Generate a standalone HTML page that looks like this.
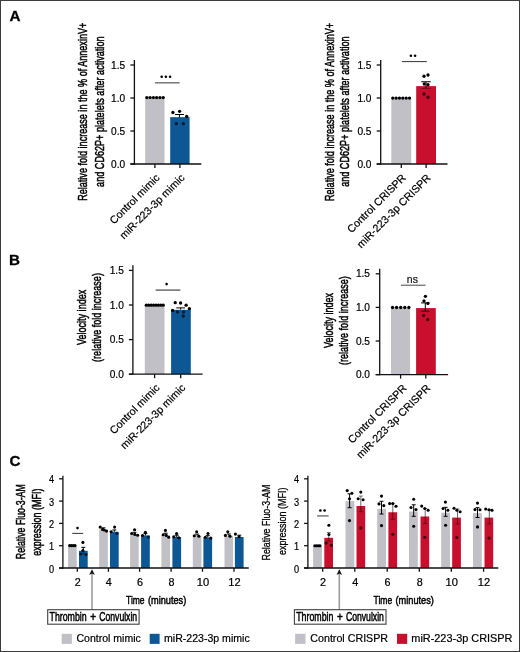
<!DOCTYPE html><html><head><meta charset="utf-8"><style>html,body{margin:0;padding:0;background:#fff;}svg{display:block;will-change:transform;}text{font-family:"Liberation Sans", sans-serif;}</style></head><body>
<svg width="520" height="652" viewBox="0 0 520 652">
<rect x="0" y="0" width="520" height="652" fill="#fff"/>
<text x="9.6" y="20.7" font-size="15.2" text-anchor="start" font-weight="bold" fill="#000" stroke="#000" stroke-width="0.3">A</text>
<text x="8.9" y="264.9" font-size="15.2" text-anchor="start" font-weight="bold" fill="#000" stroke="#000" stroke-width="0.3">B</text>
<text x="9.4" y="465.9" font-size="15.2" text-anchor="start" font-weight="bold" fill="#000" stroke="#000" stroke-width="0.3">C</text>
<text transform="translate(87.3,111.75) rotate(-90)" font-size="12.4" text-anchor="middle" textLength="178.1" lengthAdjust="spacingAndGlyphs" fill="#000" stroke="#000" stroke-width="0.5">Relative fold increase in the % of AnnexinV+</text>
<text transform="translate(103.5,111.7) rotate(-90)" font-size="12.4" text-anchor="middle" textLength="150.4" lengthAdjust="spacingAndGlyphs" fill="#000" stroke="#000" stroke-width="0.5">and CD62P+ platelets after activation</text>
<line x1="134.4" y1="60" x2="134.4" y2="164.65" stroke="#111" stroke-width="1.3"/>
<line x1="130.4" y1="65" x2="134.4" y2="65" stroke="#111" stroke-width="1.3"/>
<text x="125.2" y="68.65" font-size="10.0" text-anchor="end" textLength="14.1" lengthAdjust="spacingAndGlyphs" fill="#000" stroke="#000" stroke-width="0.2">1.5</text>
<line x1="130.4" y1="98" x2="134.4" y2="98" stroke="#111" stroke-width="1.3"/>
<text x="125.2" y="101.65" font-size="10.0" text-anchor="end" textLength="14.1" lengthAdjust="spacingAndGlyphs" fill="#000" stroke="#000" stroke-width="0.2">1.0</text>
<line x1="130.4" y1="131" x2="134.4" y2="131" stroke="#111" stroke-width="1.3"/>
<text x="125.2" y="134.65" font-size="10.0" text-anchor="end" textLength="14.1" lengthAdjust="spacingAndGlyphs" fill="#000" stroke="#000" stroke-width="0.2">0.5</text>
<line x1="130.4" y1="164" x2="134.4" y2="164" stroke="#111" stroke-width="1.3"/>
<text x="125.2" y="167.65" font-size="10.0" text-anchor="end" textLength="14.1" lengthAdjust="spacingAndGlyphs" fill="#000" stroke="#000" stroke-width="0.2">0.0</text>
<rect x="145.2" y="98" width="19.3" height="66" fill="#c1c0c6"/>
<rect x="170.2" y="117.14" width="19.4" height="46.86" fill="#0d5794"/>
<line x1="130.4" y1="164" x2="201.3" y2="164" stroke="#111" stroke-width="1.3"/>
<line x1="154.9" y1="164" x2="154.9" y2="168" stroke="#111" stroke-width="1.3"/>
<line x1="179.9" y1="164" x2="179.9" y2="168" stroke="#111" stroke-width="1.3"/>
<line x1="179.4" y1="114.5" x2="179.4" y2="117.5" stroke="#000" stroke-width="1.0"/>
<line x1="174.9" y1="114.5" x2="183.9" y2="114.5" stroke="#000" stroke-width="1.0"/>
<circle cx="146.8" cy="97.6" r="1.65" fill="#000"/>
<circle cx="150.08" cy="97.6" r="1.65" fill="#000"/>
<circle cx="153.36" cy="97.6" r="1.65" fill="#000"/>
<circle cx="156.64" cy="97.6" r="1.65" fill="#000"/>
<circle cx="159.92" cy="97.6" r="1.65" fill="#000"/>
<circle cx="163.2" cy="97.6" r="1.65" fill="#000"/>
<circle cx="172.9" cy="112.5" r="1.65" fill="#000"/>
<circle cx="179.6" cy="111.3" r="1.65" fill="#000"/>
<circle cx="186.7" cy="116.5" r="1.65" fill="#000"/>
<circle cx="176.3" cy="123.7" r="1.65" fill="#021a30"/>
<circle cx="183.3" cy="123.7" r="1.65" fill="#021a30"/>
<line x1="155" y1="82.8" x2="179.6" y2="82.8" stroke="#777" stroke-width="1.5"/>
<circle cx="161.7" cy="76.7" r="1.3" fill="#000"/>
<circle cx="165.9" cy="76.7" r="1.3" fill="#000"/>
<circle cx="170.1" cy="76.7" r="1.3" fill="#000"/>
<text transform="translate(160.2,178.5) rotate(-45)" font-size="10.7" text-anchor="end" fill="#000" stroke="#000" stroke-width="0.2">Control mimic</text>
<text transform="translate(185.2,178.5) rotate(-45)" font-size="10.7" text-anchor="end" fill="#000" stroke="#000" stroke-width="0.2">miR-223-3p mimic</text>
<text transform="translate(333.6,111.95) rotate(-90)" font-size="12.4" text-anchor="middle" textLength="178.1" lengthAdjust="spacingAndGlyphs" fill="#000" stroke="#000" stroke-width="0.5">Relative fold increase in the % of AnnexinV+</text>
<text transform="translate(349.4,111.65) rotate(-90)" font-size="12.4" text-anchor="middle" textLength="150.4" lengthAdjust="spacingAndGlyphs" fill="#000" stroke="#000" stroke-width="0.5">and CD62P+ platelets after activation</text>
<line x1="380.7" y1="60" x2="380.7" y2="164.65" stroke="#111" stroke-width="1.3"/>
<line x1="376.7" y1="65" x2="380.7" y2="65" stroke="#111" stroke-width="1.3"/>
<text x="371.5" y="68.65" font-size="10.0" text-anchor="end" textLength="14.1" lengthAdjust="spacingAndGlyphs" fill="#000" stroke="#000" stroke-width="0.2">1.5</text>
<line x1="376.7" y1="98" x2="380.7" y2="98" stroke="#111" stroke-width="1.3"/>
<text x="371.5" y="101.65" font-size="10.0" text-anchor="end" textLength="14.1" lengthAdjust="spacingAndGlyphs" fill="#000" stroke="#000" stroke-width="0.2">1.0</text>
<line x1="376.7" y1="131" x2="380.7" y2="131" stroke="#111" stroke-width="1.3"/>
<text x="371.5" y="134.65" font-size="10.0" text-anchor="end" textLength="14.1" lengthAdjust="spacingAndGlyphs" fill="#000" stroke="#000" stroke-width="0.2">0.5</text>
<line x1="376.7" y1="164" x2="380.7" y2="164" stroke="#111" stroke-width="1.3"/>
<text x="371.5" y="167.65" font-size="10.0" text-anchor="end" textLength="14.1" lengthAdjust="spacingAndGlyphs" fill="#000" stroke="#000" stroke-width="0.2">0.0</text>
<rect x="391.3" y="98" width="19.9" height="66" fill="#c1c0c6"/>
<rect x="416.2" y="86.12" width="19.8" height="77.88" fill="#c8102e"/>
<line x1="376.7" y1="164" x2="447.5" y2="164" stroke="#111" stroke-width="1.3"/>
<line x1="401.3" y1="164" x2="401.3" y2="168" stroke="#111" stroke-width="1.3"/>
<line x1="426.1" y1="164" x2="426.1" y2="168" stroke="#111" stroke-width="1.3"/>
<line x1="426" y1="81.75" x2="426" y2="88.5" stroke="#000" stroke-width="1.0"/>
<line x1="421.25" y1="81.75" x2="430.75" y2="81.75" stroke="#000" stroke-width="1.0"/>
<line x1="421.25" y1="88.5" x2="430.75" y2="88.5" stroke="#7a0a1c" stroke-width="1.0"/>
<circle cx="392.8" cy="98.1" r="1.65" fill="#000"/>
<circle cx="396.14" cy="98.1" r="1.65" fill="#000"/>
<circle cx="399.48" cy="98.1" r="1.65" fill="#000"/>
<circle cx="402.82" cy="98.1" r="1.65" fill="#000"/>
<circle cx="406.16" cy="98.1" r="1.65" fill="#000"/>
<circle cx="409.5" cy="98.1" r="1.65" fill="#000"/>
<circle cx="424" cy="76.25" r="1.65" fill="#000"/>
<circle cx="428" cy="75" r="1.65" fill="#000"/>
<circle cx="424.25" cy="84" r="1.65" fill="#000"/>
<circle cx="428" cy="84.75" r="1.65" fill="#000"/>
<circle cx="424" cy="94" r="1.65" fill="#3c0010"/>
<circle cx="428" cy="97.25" r="1.65" fill="#3c0010"/>
<line x1="401.9" y1="61.6" x2="426.8" y2="61.6" stroke="#333" stroke-width="1.0"/>
<circle cx="410.9" cy="55.7" r="1.3" fill="#000"/>
<circle cx="415.1" cy="55.7" r="1.3" fill="#000"/>
<text transform="translate(406.5,178.5) rotate(-45)" font-size="10.7" text-anchor="end" fill="#000" stroke="#000" stroke-width="0.2">Control CRISPR</text>
<text transform="translate(431.3,178.5) rotate(-45)" font-size="10.7" text-anchor="end" fill="#000" stroke="#000" stroke-width="0.2">miR-223-3p CRISPR</text>
<text transform="translate(85.8,317.4) rotate(-90)" font-size="12.4" text-anchor="middle" textLength="55.2" lengthAdjust="spacingAndGlyphs" fill="#000" stroke="#000" stroke-width="0.5">Velocity index</text>
<text transform="translate(101.2,317.5) rotate(-90)" font-size="12.4" text-anchor="middle" textLength="88.8" lengthAdjust="spacingAndGlyphs" fill="#000" stroke="#000" stroke-width="0.5">(relative fold increase)</text>
<line x1="132.9" y1="265.2" x2="132.9" y2="374.85" stroke="#111" stroke-width="1.3"/>
<line x1="128.9" y1="270.4" x2="132.9" y2="270.4" stroke="#111" stroke-width="1.3"/>
<text x="123.8" y="274.05" font-size="10.0" text-anchor="end" textLength="14.1" lengthAdjust="spacingAndGlyphs" fill="#000" stroke="#000" stroke-width="0.2">1.5</text>
<line x1="128.9" y1="305" x2="132.9" y2="305" stroke="#111" stroke-width="1.3"/>
<text x="123.8" y="308.65" font-size="10.0" text-anchor="end" textLength="14.1" lengthAdjust="spacingAndGlyphs" fill="#000" stroke="#000" stroke-width="0.2">1.0</text>
<line x1="128.9" y1="339.6" x2="132.9" y2="339.6" stroke="#111" stroke-width="1.3"/>
<text x="123.8" y="343.25" font-size="10.0" text-anchor="end" textLength="14.1" lengthAdjust="spacingAndGlyphs" fill="#000" stroke="#000" stroke-width="0.2">0.5</text>
<line x1="128.9" y1="374.2" x2="132.9" y2="374.2" stroke="#111" stroke-width="1.3"/>
<text x="123.8" y="377.85" font-size="10.0" text-anchor="end" textLength="14.1" lengthAdjust="spacingAndGlyphs" fill="#000" stroke="#000" stroke-width="0.2">0.0</text>
<rect x="144.8" y="305" width="19.7" height="69.2" fill="#c1c0c6"/>
<rect x="171.1" y="309.84" width="19.7" height="64.36" fill="#0d5794"/>
<line x1="128.9" y1="374.2" x2="202.6" y2="374.2" stroke="#111" stroke-width="1.3"/>
<line x1="154.6" y1="374.2" x2="154.6" y2="378.2" stroke="#111" stroke-width="1.3"/>
<line x1="180.7" y1="374.2" x2="180.7" y2="378.2" stroke="#111" stroke-width="1.3"/>
<line x1="180.65" y1="307.9" x2="180.65" y2="309.6" stroke="#000" stroke-width="1.0"/>
<line x1="176.3" y1="307.9" x2="185" y2="307.9" stroke="#000" stroke-width="1.0"/>
<circle cx="146.3" cy="305.2" r="1.65" fill="#000"/>
<circle cx="148.71" cy="305.2" r="1.65" fill="#000"/>
<circle cx="151.13" cy="305.2" r="1.65" fill="#000"/>
<circle cx="153.54" cy="305.2" r="1.65" fill="#000"/>
<circle cx="155.96" cy="305.2" r="1.65" fill="#000"/>
<circle cx="158.37" cy="305.2" r="1.65" fill="#000"/>
<circle cx="160.79" cy="305.2" r="1.65" fill="#000"/>
<circle cx="163.2" cy="305.2" r="1.65" fill="#000"/>
<circle cx="175.2" cy="302.7" r="1.65" fill="#000"/>
<circle cx="180.6" cy="303" r="1.65" fill="#000"/>
<circle cx="186.1" cy="305.2" r="1.65" fill="#000"/>
<circle cx="172.6" cy="310.5" r="1.65" fill="#000"/>
<circle cx="177.5" cy="311.9" r="1.65" fill="#021a30"/>
<circle cx="183.6" cy="311.9" r="1.65" fill="#021a30"/>
<circle cx="189.4" cy="308.7" r="1.65" fill="#000"/>
<circle cx="183.3" cy="316" r="1.65" fill="#021a30"/>
<line x1="155.6" y1="290.1" x2="180.4" y2="290.1" stroke="#555" stroke-width="1.3"/>
<circle cx="166.6" cy="284.1" r="1.3" fill="#000"/>
<text transform="translate(160.2,388.5) rotate(-45)" font-size="10.7" text-anchor="end" fill="#000" stroke="#000" stroke-width="0.2">Control mimic</text>
<text transform="translate(186,388.5) rotate(-45)" font-size="10.7" text-anchor="end" fill="#000" stroke="#000" stroke-width="0.2">miR-223-3p mimic</text>
<text transform="translate(332.7,320.6) rotate(-90)" font-size="12.4" text-anchor="middle" textLength="55" lengthAdjust="spacingAndGlyphs" fill="#000" stroke="#000" stroke-width="0.5">Velocity index</text>
<text transform="translate(347.9,320.6) rotate(-90)" font-size="12.4" text-anchor="middle" textLength="88.8" lengthAdjust="spacingAndGlyphs" fill="#000" stroke="#000" stroke-width="0.5">(relative fold increase)</text>
<line x1="379.7" y1="268.8" x2="379.7" y2="375.25" stroke="#111" stroke-width="1.3"/>
<line x1="375.7" y1="273.8" x2="379.7" y2="273.8" stroke="#111" stroke-width="1.3"/>
<text x="370" y="277.45" font-size="10.0" text-anchor="end" textLength="14.1" lengthAdjust="spacingAndGlyphs" fill="#000" stroke="#000" stroke-width="0.2">1.5</text>
<line x1="375.7" y1="307.4" x2="379.7" y2="307.4" stroke="#111" stroke-width="1.3"/>
<text x="370" y="311.05" font-size="10.0" text-anchor="end" textLength="14.1" lengthAdjust="spacingAndGlyphs" fill="#000" stroke="#000" stroke-width="0.2">1.0</text>
<line x1="375.7" y1="341" x2="379.7" y2="341" stroke="#111" stroke-width="1.3"/>
<text x="370" y="344.65" font-size="10.0" text-anchor="end" textLength="14.1" lengthAdjust="spacingAndGlyphs" fill="#000" stroke="#000" stroke-width="0.2">0.5</text>
<line x1="375.7" y1="374.6" x2="379.7" y2="374.6" stroke="#111" stroke-width="1.3"/>
<text x="370" y="378.25" font-size="10.0" text-anchor="end" textLength="14.1" lengthAdjust="spacingAndGlyphs" fill="#000" stroke="#000" stroke-width="0.2">0.0</text>
<rect x="391" y="307.4" width="19.1" height="67.2" fill="#c1c0c6"/>
<rect x="416.1" y="308.07" width="19.7" height="66.53" fill="#c8102e"/>
<line x1="375.7" y1="374.6" x2="448.1" y2="374.6" stroke="#111" stroke-width="1.3"/>
<line x1="400.6" y1="374.6" x2="400.6" y2="378.6" stroke="#111" stroke-width="1.3"/>
<line x1="425.8" y1="374.6" x2="425.8" y2="378.6" stroke="#111" stroke-width="1.3"/>
<line x1="425.3" y1="302.9" x2="425.3" y2="311.2" stroke="#000" stroke-width="1.0"/>
<line x1="421.1" y1="302.9" x2="429.5" y2="302.9" stroke="#000" stroke-width="1.0"/>
<line x1="421.1" y1="311.2" x2="429.5" y2="311.2" stroke="#3a0a12" stroke-width="1.0"/>
<circle cx="392.5" cy="307.5" r="1.65" fill="#000"/>
<circle cx="396.6" cy="307.5" r="1.65" fill="#000"/>
<circle cx="400.7" cy="307.5" r="1.65" fill="#000"/>
<circle cx="404.8" cy="307.5" r="1.65" fill="#000"/>
<circle cx="408.9" cy="307.5" r="1.65" fill="#000"/>
<circle cx="425.4" cy="296.3" r="1.65" fill="#000"/>
<circle cx="424" cy="300.9" r="1.65" fill="#000"/>
<circle cx="427.9" cy="303.4" r="1.65" fill="#000"/>
<circle cx="423.6" cy="315.6" r="1.65" fill="#3c0010"/>
<circle cx="427.7" cy="319.6" r="1.65" fill="#3c0010"/>
<line x1="400.9" y1="285.2" x2="425.6" y2="285.2" stroke="#333" stroke-width="0.9"/>
<text x="412.4" y="282.6" font-size="10.5" text-anchor="middle" fill="#222" stroke="#000" stroke-width="0.2">ns</text>
<text transform="translate(407.2,388.9) rotate(-45)" font-size="10.7" text-anchor="end" fill="#000" stroke="#000" stroke-width="0.2">Control CRISPR</text>
<text transform="translate(430.9,388.9) rotate(-45)" font-size="10.7" text-anchor="end" fill="#000" stroke="#000" stroke-width="0.2">miR-223-3p CRISPR</text>
<text transform="translate(25,521.7) rotate(-90)" font-size="12.4" text-anchor="middle" textLength="75" lengthAdjust="spacingAndGlyphs" fill="#000" stroke="#000" stroke-width="0.5">Relative Fluo-3-AM</text>
<text transform="translate(41.2,522.15) rotate(-90)" font-size="12.4" text-anchor="middle" textLength="67.3" lengthAdjust="spacingAndGlyphs" fill="#000" stroke="#000" stroke-width="0.5">expression (MFI)</text>
<line x1="62.9" y1="475.8" x2="62.9" y2="568.65" stroke="#111" stroke-width="1.3"/>
<line x1="59.1" y1="568" x2="62.9" y2="568" stroke="#111" stroke-width="1.3"/>
<text x="54.2" y="572.6" font-size="10" text-anchor="end" textLength="5.1" lengthAdjust="spacingAndGlyphs" fill="#000" stroke="#000" stroke-width="0.2">0</text>
<line x1="59.1" y1="545.7" x2="62.9" y2="545.7" stroke="#111" stroke-width="1.3"/>
<text x="54.2" y="550.3" font-size="10" text-anchor="end" textLength="5.1" lengthAdjust="spacingAndGlyphs" fill="#000" stroke="#000" stroke-width="0.2">1</text>
<line x1="59.1" y1="523.4" x2="62.9" y2="523.4" stroke="#111" stroke-width="1.3"/>
<text x="54.2" y="528" font-size="10" text-anchor="end" textLength="5.1" lengthAdjust="spacingAndGlyphs" fill="#000" stroke="#000" stroke-width="0.2">2</text>
<line x1="59.1" y1="501.1" x2="62.9" y2="501.1" stroke="#111" stroke-width="1.3"/>
<text x="54.2" y="505.7" font-size="10" text-anchor="end" textLength="5.1" lengthAdjust="spacingAndGlyphs" fill="#000" stroke="#000" stroke-width="0.2">3</text>
<line x1="59.1" y1="478.8" x2="62.9" y2="478.8" stroke="#111" stroke-width="1.3"/>
<text x="54.2" y="483.4" font-size="10" text-anchor="end" textLength="5.1" lengthAdjust="spacingAndGlyphs" fill="#000" stroke="#000" stroke-width="0.2">4</text>
<rect x="68.1" y="545.48" width="8.6" height="22.52" fill="#c1c0c6"/>
<rect x="79" y="550.83" width="8.7" height="17.17" fill="#0d5794"/>
<line x1="77.3" y1="568" x2="77.3" y2="571.8" stroke="#111" stroke-width="1.3"/>
<text x="77.7" y="586" font-size="10.2" text-anchor="middle" textLength="6" lengthAdjust="spacingAndGlyphs" fill="#000" stroke="#000" stroke-width="0.2">2</text>
<rect x="99.2" y="529.64" width="8.6" height="38.36" fill="#c1c0c6"/>
<rect x="110" y="531.76" width="8.7" height="36.24" fill="#0d5794"/>
<line x1="108.4" y1="568" x2="108.4" y2="571.8" stroke="#111" stroke-width="1.3"/>
<text x="108.8" y="586" font-size="10.2" text-anchor="middle" textLength="6" lengthAdjust="spacingAndGlyphs" fill="#000" stroke="#000" stroke-width="0.2">4</text>
<rect x="130.1" y="534.1" width="8.6" height="33.9" fill="#c1c0c6"/>
<rect x="141.1" y="535.44" width="8.7" height="32.56" fill="#0d5794"/>
<line x1="139.6" y1="568" x2="139.6" y2="571.8" stroke="#111" stroke-width="1.3"/>
<text x="140" y="586" font-size="10.2" text-anchor="middle" textLength="6" lengthAdjust="spacingAndGlyphs" fill="#000" stroke="#000" stroke-width="0.2">6</text>
<rect x="161.4" y="535" width="8.6" height="33" fill="#c1c0c6"/>
<rect x="172.4" y="537" width="8.7" height="31" fill="#0d5794"/>
<line x1="171.1" y1="568" x2="171.1" y2="571.8" stroke="#111" stroke-width="1.3"/>
<text x="171.5" y="586" font-size="10.2" text-anchor="middle" textLength="6" lengthAdjust="spacingAndGlyphs" fill="#000" stroke="#000" stroke-width="0.2">8</text>
<rect x="192.8" y="535.89" width="8.6" height="32.11" fill="#c1c0c6"/>
<rect x="203.4" y="537.45" width="8.7" height="30.55" fill="#0d5794"/>
<line x1="202.5" y1="568" x2="202.5" y2="571.8" stroke="#111" stroke-width="1.3"/>
<text x="202.9" y="586" font-size="10.2" text-anchor="middle" textLength="12.4" lengthAdjust="spacingAndGlyphs" fill="#000" stroke="#000" stroke-width="0.2">10</text>
<rect x="224.5" y="535.78" width="8.6" height="32.22" fill="#c1c0c6"/>
<rect x="234.9" y="537" width="8.7" height="31" fill="#0d5794"/>
<line x1="234" y1="568" x2="234" y2="571.8" stroke="#111" stroke-width="1.3"/>
<text x="234.4" y="586" font-size="10.2" text-anchor="middle" textLength="12.4" lengthAdjust="spacingAndGlyphs" fill="#000" stroke="#000" stroke-width="0.2">12</text>
<line x1="59.1" y1="568" x2="248.8" y2="568" stroke="#111" stroke-width="1.3"/>
<line x1="83.3" y1="547.3" x2="83.3" y2="550.83" stroke="#000" stroke-width="1.0"/>
<line x1="83.3" y1="550.83" x2="83.3" y2="554" stroke="#06304f" stroke-width="1.0"/>
<line x1="81.3" y1="547.3" x2="85.3" y2="547.3" stroke="#000" stroke-width="1.0"/>
<line x1="81.3" y1="554" x2="85.3" y2="554" stroke="#06304f" stroke-width="1.0"/>
<line x1="103.5" y1="527.84" x2="103.5" y2="529.64" stroke="#000" stroke-width="1.0"/>
<line x1="101.5" y1="527.84" x2="105.5" y2="527.84" stroke="#000" stroke-width="1.0"/>
<line x1="114.35" y1="529.96" x2="114.35" y2="531.76" stroke="#000" stroke-width="1.0"/>
<line x1="112.35" y1="529.96" x2="116.35" y2="529.96" stroke="#000" stroke-width="1.0"/>
<line x1="134.4" y1="532.3" x2="134.4" y2="534.1" stroke="#000" stroke-width="1.0"/>
<line x1="132.4" y1="532.3" x2="136.4" y2="532.3" stroke="#000" stroke-width="1.0"/>
<line x1="145.45" y1="533.64" x2="145.45" y2="535.44" stroke="#000" stroke-width="1.0"/>
<line x1="143.45" y1="533.64" x2="147.45" y2="533.64" stroke="#000" stroke-width="1.0"/>
<line x1="165.7" y1="533.2" x2="165.7" y2="535" stroke="#000" stroke-width="1.0"/>
<line x1="163.7" y1="533.2" x2="167.7" y2="533.2" stroke="#000" stroke-width="1.0"/>
<line x1="176.75" y1="535.2" x2="176.75" y2="537" stroke="#000" stroke-width="1.0"/>
<line x1="174.75" y1="535.2" x2="178.75" y2="535.2" stroke="#000" stroke-width="1.0"/>
<line x1="197.1" y1="534.09" x2="197.1" y2="535.89" stroke="#000" stroke-width="1.0"/>
<line x1="195.1" y1="534.09" x2="199.1" y2="534.09" stroke="#000" stroke-width="1.0"/>
<line x1="207.75" y1="535.65" x2="207.75" y2="537.45" stroke="#000" stroke-width="1.0"/>
<line x1="205.75" y1="535.65" x2="209.75" y2="535.65" stroke="#000" stroke-width="1.0"/>
<line x1="228.8" y1="533.98" x2="228.8" y2="535.78" stroke="#000" stroke-width="1.0"/>
<line x1="226.8" y1="533.98" x2="230.8" y2="533.98" stroke="#000" stroke-width="1.0"/>
<line x1="239.25" y1="535.2" x2="239.25" y2="537" stroke="#000" stroke-width="1.0"/>
<line x1="237.25" y1="535.2" x2="241.25" y2="535.2" stroke="#000" stroke-width="1.0"/>
<circle cx="69.6" cy="545.6" r="1.55" fill="#000"/>
<circle cx="71.4" cy="545.6" r="1.55" fill="#000"/>
<circle cx="73.2" cy="545.6" r="1.55" fill="#000"/>
<circle cx="75" cy="545.6" r="1.55" fill="#000"/>
<circle cx="82.9" cy="542.4" r="1.55" fill="#000"/>
<circle cx="82.9" cy="550.5" r="1.55" fill="#000"/>
<circle cx="80.6" cy="554" r="1.55" fill="#021a30"/>
<circle cx="86" cy="554.6" r="1.55" fill="#021a30"/>
<circle cx="100.2" cy="527.1" r="1.55" fill="#000"/>
<circle cx="102.5" cy="529.4" r="1.55" fill="#000"/>
<circle cx="104.2" cy="530" r="1.55" fill="#000"/>
<circle cx="106.5" cy="531.1" r="1.55" fill="#000"/>
<circle cx="114.6" cy="527.1" r="1.55" fill="#000"/>
<circle cx="111.1" cy="531.7" r="1.55" fill="#000"/>
<circle cx="116.9" cy="533.5" r="1.55" fill="#021a30"/>
<circle cx="134.6" cy="529.8" r="1.55" fill="#000"/>
<circle cx="131.7" cy="533.5" r="1.55" fill="#000"/>
<circle cx="134.8" cy="534.4" r="1.55" fill="#000"/>
<circle cx="137.7" cy="535.2" r="1.55" fill="#000"/>
<circle cx="145.4" cy="532.3" r="1.55" fill="#000"/>
<circle cx="142.5" cy="535.5" r="1.55" fill="#000"/>
<circle cx="148.3" cy="537.1" r="1.55" fill="#021a30"/>
<circle cx="165.4" cy="530.4" r="1.55" fill="#000"/>
<circle cx="163.2" cy="534.8" r="1.55" fill="#000"/>
<circle cx="166.3" cy="535.4" r="1.55" fill="#000"/>
<circle cx="168.7" cy="537.2" r="1.55" fill="#000"/>
<circle cx="176.6" cy="533.5" r="1.55" fill="#000"/>
<circle cx="173.8" cy="536.8" r="1.55" fill="#000"/>
<circle cx="178.8" cy="537.7" r="1.55" fill="#000"/>
<circle cx="196.7" cy="531.7" r="1.55" fill="#000"/>
<circle cx="194.3" cy="535.7" r="1.55" fill="#000"/>
<circle cx="198.9" cy="536.3" r="1.55" fill="#000"/>
<circle cx="208" cy="533.5" r="1.55" fill="#000"/>
<circle cx="205.3" cy="537.2" r="1.55" fill="#000"/>
<circle cx="210.8" cy="538.1" r="1.55" fill="#000"/>
<circle cx="227.8" cy="531.7" r="1.55" fill="#000"/>
<circle cx="225.4" cy="535.4" r="1.55" fill="#000"/>
<circle cx="230" cy="536.3" r="1.55" fill="#000"/>
<circle cx="235.4" cy="534.1" r="1.55" fill="#000"/>
<circle cx="239.1" cy="536.8" r="1.55" fill="#000"/>
<line x1="72.2" y1="533.4" x2="83.2" y2="533.4" stroke="#333" stroke-width="1.0"/>
<circle cx="77.5" cy="528.1" r="1.3" fill="#000"/>
<line x1="92" y1="609.7" x2="92" y2="573" stroke="#9c9c9c" stroke-width="1.6"/>
<path d="M92,569.3 L94.8,574.9 L92,573.4 L89.2,574.9 Z" fill="#111"/>
<rect x="47.7" y="609.7" width="91.4" height="14.5" fill="#fff" stroke="#404040" stroke-width="1.1"/>
<text x="49.5" y="621.3" font-size="12.0" text-anchor="start" textLength="37.2" lengthAdjust="spacingAndGlyphs" fill="#000" stroke="#000" stroke-width="0.5">Thrombin</text>
<text x="93.15" y="621.3" font-size="12.0" text-anchor="middle" textLength="5.8" lengthAdjust="spacingAndGlyphs" fill="#000" stroke="#000" stroke-width="0.5">+</text>
<text x="99.2" y="621.3" font-size="12.0" text-anchor="start" textLength="38" lengthAdjust="spacingAndGlyphs" fill="#000" stroke="#000" stroke-width="0.5">Convulxin</text>
<text x="126" y="603.5" font-size="11.6" text-anchor="start" textLength="18.6" lengthAdjust="spacingAndGlyphs" fill="#000" stroke="#000" stroke-width="0.5">Time</text>
<text x="147.9" y="603.5" font-size="11.6" text-anchor="start" textLength="38.4" lengthAdjust="spacingAndGlyphs" fill="#000" stroke="#000" stroke-width="0.5">(minutes)</text>
<rect x="61.7" y="633.8" width="10.2" height="10.1" fill="#c1c0c6"/>
<text x="76.5" y="642.3" font-size="10.5" text-anchor="start" textLength="64.3" lengthAdjust="spacingAndGlyphs" fill="#000" stroke="#000" stroke-width="0.2">Control mimic</text>
<rect x="149.7" y="633.8" width="9.9" height="10.1" fill="#0d5794"/>
<text x="164" y="642.3" font-size="10.5" text-anchor="start" textLength="85.7" lengthAdjust="spacingAndGlyphs" fill="#000" stroke="#000" stroke-width="0.2">miR-223-3p mimic</text>
<text transform="translate(269.6,522.55) rotate(-90)" font-size="11.8" text-anchor="middle" textLength="75.9" lengthAdjust="spacingAndGlyphs" fill="#000" stroke="#000" stroke-width="0.3">Relative Fluo-3-AM</text>
<text transform="translate(285.8,521.35) rotate(-90)" font-size="11.8" text-anchor="middle" textLength="67.5" lengthAdjust="spacingAndGlyphs" fill="#000" stroke="#000" stroke-width="0.3">expression (MFI)</text>
<line x1="307.9" y1="475.8" x2="307.9" y2="568.65" stroke="#111" stroke-width="1.3"/>
<line x1="304.1" y1="568" x2="307.9" y2="568" stroke="#111" stroke-width="1.3"/>
<text x="299.2" y="572.6" font-size="10" text-anchor="end" textLength="5.1" lengthAdjust="spacingAndGlyphs" fill="#000" stroke="#000" stroke-width="0.2">0</text>
<line x1="304.1" y1="545.7" x2="307.9" y2="545.7" stroke="#111" stroke-width="1.3"/>
<text x="299.2" y="550.3" font-size="10" text-anchor="end" textLength="5.1" lengthAdjust="spacingAndGlyphs" fill="#000" stroke="#000" stroke-width="0.2">1</text>
<line x1="304.1" y1="523.4" x2="307.9" y2="523.4" stroke="#111" stroke-width="1.3"/>
<text x="299.2" y="528" font-size="10" text-anchor="end" textLength="5.1" lengthAdjust="spacingAndGlyphs" fill="#000" stroke="#000" stroke-width="0.2">2</text>
<line x1="304.1" y1="501.1" x2="307.9" y2="501.1" stroke="#111" stroke-width="1.3"/>
<text x="299.2" y="505.7" font-size="10" text-anchor="end" textLength="5.1" lengthAdjust="spacingAndGlyphs" fill="#000" stroke="#000" stroke-width="0.2">3</text>
<line x1="304.1" y1="478.8" x2="307.9" y2="478.8" stroke="#111" stroke-width="1.3"/>
<text x="299.2" y="483.4" font-size="10" text-anchor="end" textLength="5.1" lengthAdjust="spacingAndGlyphs" fill="#000" stroke="#000" stroke-width="0.2">4</text>
<rect x="313.1" y="545.7" width="8.8" height="22.3" fill="#c1c0c6"/>
<rect x="324.3" y="537.81" width="8.7" height="30.19" fill="#c8102e"/>
<line x1="322.7" y1="568" x2="322.7" y2="571.8" stroke="#111" stroke-width="1.3"/>
<text x="323.1" y="586" font-size="10.2" text-anchor="middle" textLength="6" lengthAdjust="spacingAndGlyphs" fill="#000" stroke="#000" stroke-width="0.2">2</text>
<rect x="345.5" y="501.1" width="8.8" height="66.9" fill="#c1c0c6"/>
<rect x="356.5" y="506.01" width="8.7" height="61.99" fill="#c8102e"/>
<line x1="354.8" y1="568" x2="354.8" y2="571.8" stroke="#111" stroke-width="1.3"/>
<text x="355.2" y="586" font-size="10.2" text-anchor="middle" textLength="6" lengthAdjust="spacingAndGlyphs" fill="#000" stroke="#000" stroke-width="0.2">4</text>
<rect x="377.2" y="508.9" width="8.8" height="59.1" fill="#c1c0c6"/>
<rect x="388.4" y="512.25" width="8.7" height="55.75" fill="#c8102e"/>
<line x1="387.2" y1="568" x2="387.2" y2="571.8" stroke="#111" stroke-width="1.3"/>
<text x="387.6" y="586" font-size="10.2" text-anchor="middle" textLength="6" lengthAdjust="spacingAndGlyphs" fill="#000" stroke="#000" stroke-width="0.2">6</text>
<rect x="409" y="511.58" width="8.8" height="56.42" fill="#c1c0c6"/>
<rect x="420.5" y="516.49" width="8.7" height="51.51" fill="#c8102e"/>
<line x1="419.3" y1="568" x2="419.3" y2="571.8" stroke="#111" stroke-width="1.3"/>
<text x="419.7" y="586" font-size="10.2" text-anchor="middle" textLength="6" lengthAdjust="spacingAndGlyphs" fill="#000" stroke="#000" stroke-width="0.2">8</text>
<rect x="441.2" y="512.7" width="8.8" height="55.3" fill="#c1c0c6"/>
<rect x="452.2" y="517.6" width="8.7" height="50.4" fill="#c8102e"/>
<line x1="451.3" y1="568" x2="451.3" y2="571.8" stroke="#111" stroke-width="1.3"/>
<text x="451.7" y="586" font-size="10.2" text-anchor="middle" textLength="12.4" lengthAdjust="spacingAndGlyphs" fill="#000" stroke="#000" stroke-width="0.2">10</text>
<rect x="473" y="513.14" width="8.8" height="54.86" fill="#c1c0c6"/>
<rect x="484.5" y="517.6" width="8.7" height="50.4" fill="#c8102e"/>
<line x1="483.6" y1="568" x2="483.6" y2="571.8" stroke="#111" stroke-width="1.3"/>
<text x="484" y="586" font-size="10.2" text-anchor="middle" textLength="12.4" lengthAdjust="spacingAndGlyphs" fill="#000" stroke="#000" stroke-width="0.2">12</text>
<line x1="304.1" y1="568" x2="498.3" y2="568" stroke="#111" stroke-width="1.3"/>
<line x1="328.8" y1="532.6" x2="328.8" y2="537.81" stroke="#6a6a6a" stroke-width="1.0"/>
<line x1="328.8" y1="537.81" x2="328.8" y2="541" stroke="#6a0818" stroke-width="1.0"/>
<line x1="326.8" y1="532.6" x2="330.8" y2="532.6" stroke="#6a6a6a" stroke-width="1.0"/>
<line x1="326.8" y1="541" x2="330.8" y2="541" stroke="#6a0818" stroke-width="1.0"/>
<line x1="349.6" y1="493.8" x2="349.6" y2="507.7" stroke="#000" stroke-width="1.0"/>
<line x1="347.6" y1="493.8" x2="351.6" y2="493.8" stroke="#000" stroke-width="1.0"/>
<line x1="347.6" y1="507.7" x2="351.6" y2="507.7" stroke="#000" stroke-width="1.0"/>
<line x1="360.8" y1="496.1" x2="360.8" y2="506.01" stroke="#6a6a6a" stroke-width="1.0"/>
<line x1="360.8" y1="506.01" x2="360.8" y2="511.7" stroke="#6a0818" stroke-width="1.0"/>
<line x1="358.8" y1="496.1" x2="362.8" y2="496.1" stroke="#6a6a6a" stroke-width="1.0"/>
<line x1="358.8" y1="511.7" x2="362.8" y2="511.7" stroke="#6a0818" stroke-width="1.0"/>
<line x1="381.5" y1="501.3" x2="381.5" y2="514" stroke="#000" stroke-width="1.0"/>
<line x1="379.5" y1="501.3" x2="383.5" y2="501.3" stroke="#000" stroke-width="1.0"/>
<line x1="379.5" y1="514" x2="383.5" y2="514" stroke="#000" stroke-width="1.0"/>
<line x1="392.8" y1="503.6" x2="392.8" y2="512.25" stroke="#6a6a6a" stroke-width="1.0"/>
<line x1="392.8" y1="512.25" x2="392.8" y2="519.2" stroke="#6a0818" stroke-width="1.0"/>
<line x1="390.8" y1="503.6" x2="394.8" y2="503.6" stroke="#6a6a6a" stroke-width="1.0"/>
<line x1="390.8" y1="519.2" x2="394.8" y2="519.2" stroke="#6a0818" stroke-width="1.0"/>
<line x1="413.7" y1="504.8" x2="413.7" y2="516.3" stroke="#000" stroke-width="1.0"/>
<line x1="411.7" y1="504.8" x2="415.7" y2="504.8" stroke="#000" stroke-width="1.0"/>
<line x1="411.7" y1="516.3" x2="415.7" y2="516.3" stroke="#000" stroke-width="1.0"/>
<line x1="425.2" y1="508.5" x2="425.2" y2="516.49" stroke="#6a6a6a" stroke-width="1.0"/>
<line x1="425.2" y1="516.49" x2="425.2" y2="523.5" stroke="#6a0818" stroke-width="1.0"/>
<line x1="423.2" y1="508.5" x2="427.2" y2="508.5" stroke="#6a6a6a" stroke-width="1.0"/>
<line x1="423.2" y1="523.5" x2="427.2" y2="523.5" stroke="#6a0818" stroke-width="1.0"/>
<line x1="445.6" y1="507.3" x2="445.6" y2="516.3" stroke="#000" stroke-width="1.0"/>
<line x1="443.6" y1="507.3" x2="447.6" y2="507.3" stroke="#000" stroke-width="1.0"/>
<line x1="443.6" y1="516.3" x2="447.6" y2="516.3" stroke="#000" stroke-width="1.0"/>
<line x1="457.5" y1="509" x2="457.5" y2="517.6" stroke="#6a6a6a" stroke-width="1.0"/>
<line x1="457.5" y1="517.6" x2="457.5" y2="524" stroke="#6a0818" stroke-width="1.0"/>
<line x1="455.5" y1="509" x2="459.5" y2="509" stroke="#6a6a6a" stroke-width="1.0"/>
<line x1="455.5" y1="524" x2="459.5" y2="524" stroke="#6a0818" stroke-width="1.0"/>
<line x1="477.5" y1="507.7" x2="477.5" y2="517.5" stroke="#000" stroke-width="1.0"/>
<line x1="475.5" y1="507.7" x2="479.5" y2="507.7" stroke="#000" stroke-width="1.0"/>
<line x1="475.5" y1="517.5" x2="479.5" y2="517.5" stroke="#000" stroke-width="1.0"/>
<line x1="489.3" y1="509.8" x2="489.3" y2="517.6" stroke="#6a6a6a" stroke-width="1.0"/>
<line x1="489.3" y1="517.6" x2="489.3" y2="523.8" stroke="#6a0818" stroke-width="1.0"/>
<line x1="487.3" y1="509.8" x2="491.3" y2="509.8" stroke="#6a6a6a" stroke-width="1.0"/>
<line x1="487.3" y1="523.8" x2="491.3" y2="523.8" stroke="#6a0818" stroke-width="1.0"/>
<circle cx="314.8" cy="545.7" r="1.55" fill="#000"/>
<circle cx="316.53" cy="545.7" r="1.55" fill="#000"/>
<circle cx="318.27" cy="545.7" r="1.55" fill="#000"/>
<circle cx="320" cy="545.7" r="1.55" fill="#000"/>
<circle cx="328.9" cy="525.2" r="1.55" fill="#000"/>
<circle cx="328.9" cy="534.5" r="1.55" fill="#000"/>
<circle cx="326.2" cy="543.1" r="1.55" fill="#3c0010"/>
<circle cx="331.4" cy="545.2" r="1.55" fill="#3c0010"/>
<circle cx="347.2" cy="490.6" r="1.55" fill="#000"/>
<circle cx="351.9" cy="493.3" r="1.55" fill="#000"/>
<circle cx="349.5" cy="498.7" r="1.55" fill="#000"/>
<circle cx="349.5" cy="520.6" r="1.55" fill="#000"/>
<circle cx="360.8" cy="492.1" r="1.55" fill="#000"/>
<circle cx="358.2" cy="498.8" r="1.55" fill="#000"/>
<circle cx="363.1" cy="499.8" r="1.55" fill="#000"/>
<circle cx="360.8" cy="527.9" r="1.55" fill="#3c0010"/>
<circle cx="381.5" cy="496.1" r="1.55" fill="#000"/>
<circle cx="379" cy="503.9" r="1.55" fill="#000"/>
<circle cx="383.8" cy="505.6" r="1.55" fill="#000"/>
<circle cx="381.5" cy="525.6" r="1.55" fill="#000"/>
<circle cx="389.6" cy="503.6" r="1.55" fill="#000"/>
<circle cx="392.8" cy="503.6" r="1.55" fill="#000"/>
<circle cx="396" cy="506.3" r="1.55" fill="#000"/>
<circle cx="392.8" cy="534.2" r="1.55" fill="#3c0010"/>
<circle cx="413.7" cy="499.2" r="1.55" fill="#000"/>
<circle cx="411" cy="507.5" r="1.55" fill="#000"/>
<circle cx="416" cy="509.6" r="1.55" fill="#000"/>
<circle cx="413.7" cy="526.3" r="1.55" fill="#000"/>
<circle cx="421.7" cy="506.1" r="1.55" fill="#000"/>
<circle cx="424.8" cy="508.5" r="1.55" fill="#000"/>
<circle cx="428.1" cy="510.2" r="1.55" fill="#000"/>
<circle cx="424.8" cy="537.3" r="1.55" fill="#3c0010"/>
<circle cx="445.4" cy="502.1" r="1.55" fill="#000"/>
<circle cx="443.1" cy="508.5" r="1.55" fill="#000"/>
<circle cx="447.9" cy="510.2" r="1.55" fill="#000"/>
<circle cx="445.6" cy="525.2" r="1.55" fill="#000"/>
<circle cx="454" cy="508.2" r="1.55" fill="#000"/>
<circle cx="456.9" cy="510.2" r="1.55" fill="#000"/>
<circle cx="460.1" cy="511.7" r="1.55" fill="#000"/>
<circle cx="456.9" cy="537.5" r="1.55" fill="#3c0010"/>
<circle cx="477.5" cy="503.1" r="1.55" fill="#000"/>
<circle cx="475" cy="509.6" r="1.55" fill="#000"/>
<circle cx="480" cy="509.8" r="1.55" fill="#000"/>
<circle cx="477.5" cy="526.9" r="1.55" fill="#000"/>
<circle cx="485.7" cy="509" r="1.55" fill="#000"/>
<circle cx="489" cy="509.8" r="1.55" fill="#000"/>
<circle cx="492" cy="510.3" r="1.55" fill="#000"/>
<circle cx="489" cy="538.1" r="1.55" fill="#3c0010"/>
<line x1="317.1" y1="515.9" x2="328.6" y2="515.9" stroke="#777" stroke-width="1.5"/>
<circle cx="320.4" cy="510.5" r="1.3" fill="#000"/>
<circle cx="324.6" cy="510.5" r="1.3" fill="#000"/>
<line x1="339.3" y1="609.7" x2="339.3" y2="573" stroke="#9c9c9c" stroke-width="1.6"/>
<path d="M339.3,569.3 L342.1,574.9 L339.3,573.4 L336.5,574.9 Z" fill="#111"/>
<rect x="294.4" y="609.7" width="91.6" height="14.5" fill="#fff" stroke="#404040" stroke-width="1.1"/>
<text x="296.2" y="621.3" font-size="12.0" text-anchor="start" textLength="37.2" lengthAdjust="spacingAndGlyphs" fill="#000" stroke="#000" stroke-width="0.5">Thrombin</text>
<text x="339.85" y="621.3" font-size="12.0" text-anchor="middle" textLength="5.8" lengthAdjust="spacingAndGlyphs" fill="#000" stroke="#000" stroke-width="0.5">+</text>
<text x="345.9" y="621.3" font-size="12.0" text-anchor="start" textLength="38" lengthAdjust="spacingAndGlyphs" fill="#000" stroke="#000" stroke-width="0.5">Convulxin</text>
<text x="373.6" y="603.5" font-size="11.6" text-anchor="start" textLength="18.6" lengthAdjust="spacingAndGlyphs" fill="#000" stroke="#000" stroke-width="0.5">Time</text>
<text x="395.5" y="603.5" font-size="11.6" text-anchor="start" textLength="38.4" lengthAdjust="spacingAndGlyphs" fill="#000" stroke="#000" stroke-width="0.5">(minutes)</text>
<rect x="295.1" y="633.8" width="10.4" height="10.1" fill="#c1c0c6"/>
<text x="310.3" y="642.3" font-size="10.5" text-anchor="start" textLength="77.8" lengthAdjust="spacingAndGlyphs" fill="#000" stroke="#000" stroke-width="0.2">Control CRISPR</text>
<rect x="397" y="633.8" width="10.2" height="10.1" fill="#c8102e"/>
<text x="411.3" y="642.3" font-size="10.5" text-anchor="start" textLength="101.2" lengthAdjust="spacingAndGlyphs" fill="#000" stroke="#000" stroke-width="0.2">miR-223-3p CRISPR</text>
<rect x="0.5" y="0.5" width="519" height="651" fill="none" stroke="#3c3c3c" stroke-width="1"/>
</svg></body></html>
